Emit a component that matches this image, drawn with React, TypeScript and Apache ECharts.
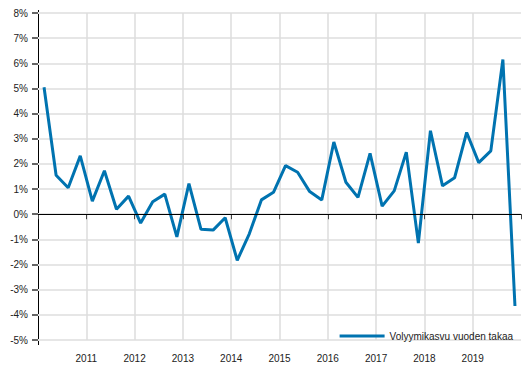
import React, { useEffect, useRef } from "react";
import * as echarts from "echarts";

const seriesName = "Volyymikasvu vuoden takaa";
// quarterly values 2010Q1 .. 2019Q4 (%)
const values = [
  5.05, 1.55, 1.05, 2.32,
  0.52, 1.73, 0.2, 0.72,
  -0.35, 0.5, 0.8, -0.9,
  1.22, -0.6, -0.63, -0.14,
  -1.83, -0.78, 0.57, 0.87,
  1.93, 1.67, 0.9, 0.57,
  2.87, 1.27, 0.67, 2.42,
  0.32, 0.93, 2.47, -1.15,
  3.32, 1.13, 1.45, 3.25,
  2.05, 2.52, 6.15, -3.65,
];
const startYear = 2010;
const yTicks = { min: -5, max: 8, step: 1 };

export default function App() {
  const ref = useRef<HTMLDivElement>(null);
  useEffect(() => {
    if (!ref.current) return;
    const chart = echarts.init(ref.current, null, { renderer: "svg" });
    const font = 'Arial, "Liberation Sans", sans-serif';
    const data = values.map((v, i) => [i + 0.5, v]);
    const nq = values.length;
    const vColors: string[] = [];
    for (let i = 0; i <= nq / 4; i++) vColors.push(i === 0 || i === nq / 4 ? "transparent" : "#dddddd");
    chart.setOption({
      animation: false,
      textStyle: { fontFamily: font },
      grid: { left: 38, right: 8, top: 13, bottom: 38, containLabel: false },
      xAxis: {
        type: "value",
        min: 0,
        max: nq,
        interval: 4,
        offset: 5,
        axisLine: { show: true, lineStyle: { color: "#000", width: 1 } },
        axisTick: { show: true, length: 5, lineStyle: { color: "#444" } },
        axisLabel: {
          margin: 8,
          color: "#222",
          fontSize: 10,
          fontFamily: font,
          formatter: (v: number) => (v <= 0 || v >= nq ? "" : String(startYear + v / 4)),
        },
        splitLine: { show: true, lineStyle: { color: vColors, width: 1.5 } },
      },
      yAxis: {
        type: "value",
        min: yTicks.min,
        max: yTicks.max,
        interval: yTicks.step,
        axisLine: { show: false },
        axisTick: { show: true, length: 6, lineStyle: { color: "#666", width: 2 } },
        axisLabel: {
          margin: 10,
          color: "#222",
          fontSize: 10,
          fontFamily: font,
          formatter: (v: number) => `${v}%`,
        },
        splitLine: { show: true, lineStyle: { color: "#e6e6e6", width: 2 } },
      },
      legend: {
        right: 16,
        top: 326,
        padding: [5, 0, 5, 5],
        icon: "rect",
        itemWidth: 45,
        itemHeight: 3,
        itemGap: 6,
        textStyle: { fontSize: 10, color: "#222", fontFamily: font },
        data: [seriesName],
      },
      graphic: [
        {
          type: "line",
          shape: { x1: 38.5, y1: 10, x2: 38.5, y2: 345 },
          style: { stroke: "#000", lineWidth: 1 },
          silent: true,
        },
      ],
      series: [
        {
          name: seriesName,
          type: "line",
          data,
          symbol: "none",
          lineStyle: { color: "#0073b0", width: 3 },
          itemStyle: { color: "#0073b0" },
          markLine: {
            silent: true,
            symbol: "none",
            label: { show: false },
            lineStyle: { color: "#000", width: 1, type: "solid" },
            data: [{ yAxis: 0 }],
          },
        },
      ],
    });
    return () => chart.dispose();
  }, []);
  return (
    <div
      ref={ref}
      style={{ position: "absolute", left: 0, top: 0, width: 529, height: 378 }}
    />
  );
}
